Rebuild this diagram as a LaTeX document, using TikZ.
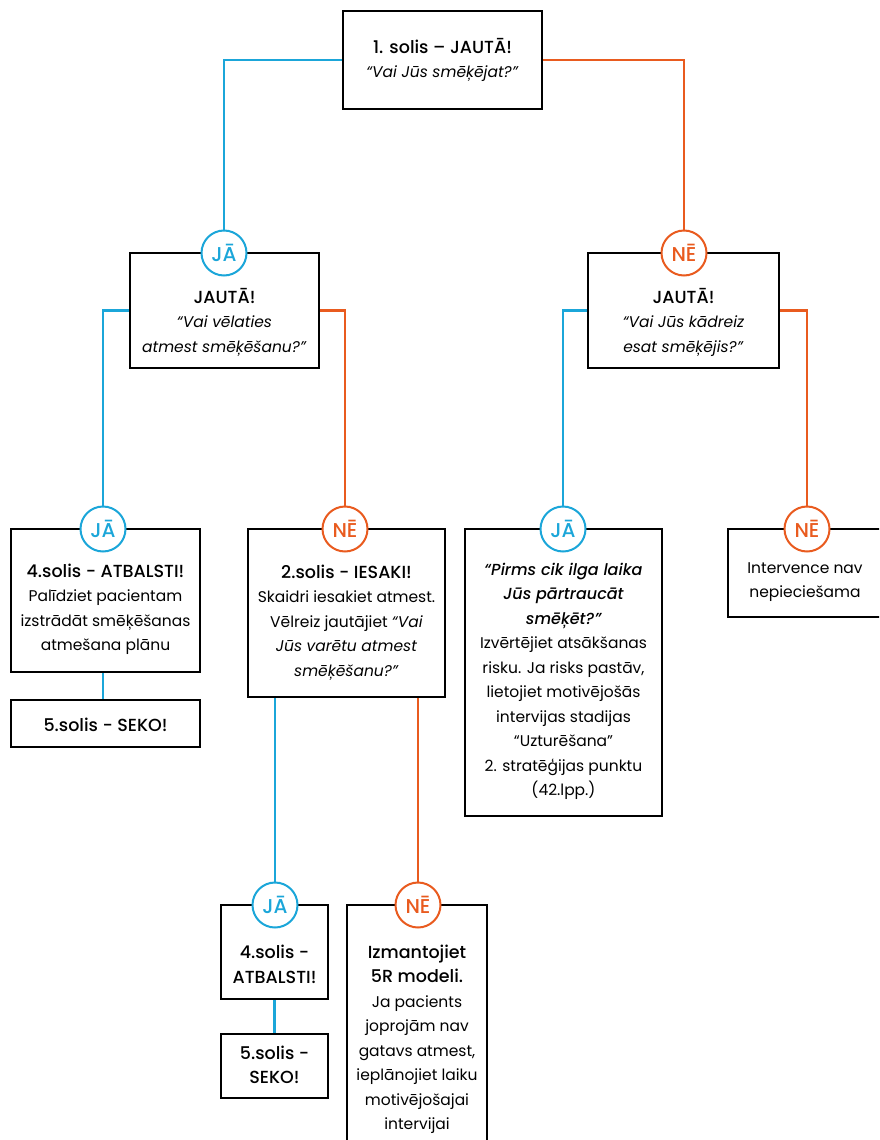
\documentclass[tikz,border=0pt]{standalone}
\usepackage{fontspec}
\setmainfont{Poppins}[BoldFont={* Medium},BoldItalicFont={* Medium Italic}]
\usepackage{tikz}
\definecolor{jablue}{HTML}{1BA6D9}
\definecolor{neorange}{HTML}{E95B1F}
\newcommand{\bfhead}[1]{{\fontsize{17.5}{24.5}\selectfont\bfseries #1}}
\newcommand{\bfquote}[1]{{\fontsize{16}{24.5}\selectfont\bfseries\itshape #1}}
\tikzstyle{box}=[draw, line width=2pt, rectangle, inner sep=0pt]
\tikzstyle{txt}=[align=center, inner sep=0pt, font=\fontsize{15.5}{24.5}\selectfont]
\tikzstyle{ja}=[circle, draw=jablue, fill=white, line width=2pt, minimum size=45pt, inner sep=0pt, text=jablue, font=\fontsize{20}{20}\selectfont\bfseries]
\tikzstyle{ne}=[ja, draw=neorange, text=neorange]
\tikzstyle{yesline}=[jablue, line width=2.2pt]
\tikzstyle{noline}=[neorange, line width=2.2pt]

\begin{document}
\begin{tikzpicture}[x=1pt, y=-1pt]
\useasboundingbox (0, 0) rectangle (879, 1140);
\clip (0, 0) rectangle (879, 1140);

\draw (442.5, 60) node (top) [box, minimum width=199pt, minimum height=98pt] {};
\draw (442.5, 60) node (toptxt) [txt] {\bfhead{1. solis – JAUTĀ!}\\ \textit{“Vai Jūs smēķējat?”}};

\draw (224.5, 310.5) node (jautaL) [box, minimum width=189pt, minimum height=115pt] {};
\draw (224.5, 322) node (jautaLtxt) [txt] {\bfhead{JAUTĀ!}\\ \textit{“Vai vēlaties}\\ \textit{atmest smēķēšanu?”}};
\draw (683.5, 310.5) node (jautaR) [box, minimum width=191pt, minimum height=115pt] {};
\draw (683.5, 322) node (jautaRtxt) [txt] {\bfhead{JAUTĀ!}\\ \textit{“Vai Jūs kādreiz}\\ \textit{esat smēķējis?”}};

\draw (105.5, 600.5) node (atbalsti) [box, minimum width=189pt, minimum height=143pt] {};
\draw (105.5, 609.5) node (atbalstitxt) [txt] {\bfhead{4.solis - ATBALSTI!}\\ Palīdziet pacientam\\ izstrādāt smēķēšanas\\ atmešana plānu};
\draw (105.5, 723.5) node (seko) [box, minimum width=189pt, minimum height=47pt] {};
\draw (105.5, 724.5) node (sekotxt) [txt] {\bfhead{5.solis - SEKO!}};

\draw (346.5, 613) node (iesaki) [box, minimum width=197pt, minimum height=168pt] {};
\draw (346.5, 622.5) node (iesakitxt) [txt] {\bfhead{2.solis - IESAKI!}\\ Skaidri iesakiet atmest.\\ Vēlreiz jautājiet \textit{“Vai}\\ \textit{Jūs varētu atmest}\\ \textit{smēķēšanu?”}};

\draw (563.5, 672.5) node (pirms) [box, minimum width=197pt, minimum height=287pt] {};
\draw (563.5, 681.5) node (pirmstxt) [txt] {\bfquote{“Pirms cik ilga laika}\\ \bfquote{Jūs pārtraucāt}\\ \bfquote{smēķēt?”}\\ Izvērtējiet atsākšanas\\ risku. Ja risks pastāv,\\ lietojiet motivējošās\\ intervijas stadijas\\ “Uzturēšana”\\ 2. stratēģijas punktu\\ (42.lpp.)};

\draw (806, 573) node (interv) [box, minimum width=156pt, minimum height=88pt] {};
\draw (805, 582) node (intervtxt) [txt] {Intervence nav\\ nepieciešama};

\draw (274.5, 952) node (atbalstiB) [box, minimum width=107pt, minimum height=94pt] {};
\draw (274.5, 964.5) node (atbalstiBtxt) [txt] {\bfhead{4.solis -}\\ \bfhead{ATBALSTI!}};
\draw (274.5, 1066) node (sekoB) [box, minimum width=107pt, minimum height=64pt] {};
\draw (274.5, 1065) node (sekoBtxt) [txt] {\bfhead{5.solis -}\\ \bfhead{SEKO!}};

\draw (417, 1032.5) node (modeli) [box, minimum width=140pt, minimum height=255pt] {};
\draw (417, 1039.5) node (modelitxt) [txt] {\bfhead{Izmantojiet}\\ \bfhead{5R modeli.}\\ Ja pacients\\ joprojām nav\\ gatavs atmest,\\ ieplānojiet laiku\\ motivējošajai\\ intervijai};

% answer circles
\draw (224, 253) node (ja0) [ja] {JĀ};
\draw (684, 253) node (ne0) [ne] {NĒ};
\draw (103, 529) node (ja1) [ja] {JĀ};
\draw (345, 529) node (ne1) [ne] {NĒ};
\draw (563, 529) node (ja2) [ja] {JĀ};
\draw (807, 529) node (ne2) [ne] {NĒ};
\draw (275, 905) node (ja3) [ja] {JĀ};
\draw (418, 905) node (ne3) [ne] {NĒ};

% connectors
\draw [yesline] (top.west) -| (ja0);
\draw [noline] (top.east) -| (ne0);
\draw [yesline] (jautaL.west) -| (ja1);
\draw [noline] (jautaL.east) -| (ne1);
\draw [yesline] (jautaR.west) -| (ja2);
\draw [noline] (jautaR.east) -| (ne2);
\draw [yesline] (atbalsti.south -| ja1) -- (seko.north -| ja1);
\draw [yesline] (iesaki.south -| ja3) -- (ja3);
\draw [noline] (iesaki.south -| ne3) -- (ne3);
\draw [yesline] (atbalstiB) -- (sekoB);

\end{tikzpicture}
\end{document}
